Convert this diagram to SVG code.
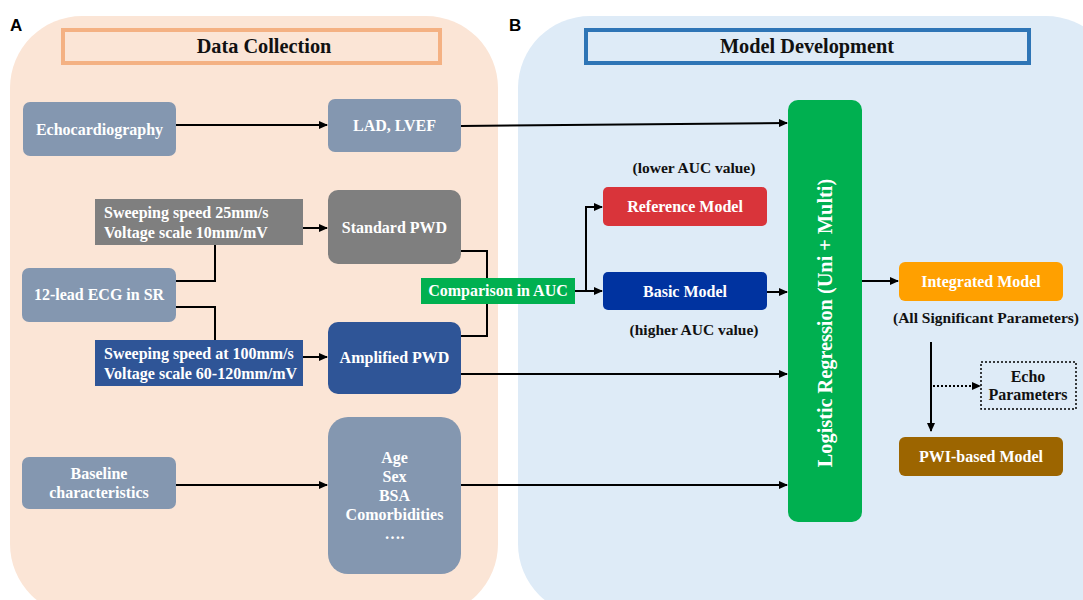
<svg xmlns="http://www.w3.org/2000/svg" width="1083" height="600" viewBox="0 0 1083 600">
<style>
.t{font-family:"Liberation Serif","Times New Roman",serif;font-weight:bold;font-size:16px;fill:#fff;text-anchor:middle}
.k{fill:#111}
.s{font-size:15.5px}
.h{font-size:20.3px}
.l{text-anchor:start}
.c{fill:none;stroke:#000;stroke-width:2}
.lab{font-family:"Liberation Sans",Arial,sans-serif;font-weight:bold;font-size:17px;fill:#000}
</style>
<defs>
<marker id="ah" markerWidth="9" markerHeight="8" refX="8" refY="4" orient="auto" markerUnits="userSpaceOnUse">
<path d="M0,0 L9,4 L0,8 Z" fill="#000"/>
</marker>
</defs>
<rect width="1083" height="600" fill="#fff"/>
<g id="panelA">
<rect x="10" y="16" width="488" height="600" rx="72" fill="#fbe5d6"/>
<text class="lab" x="10" y="31">A</text>
<rect x="63" y="30" width="377" height="33" fill="none" stroke="#f4b183" stroke-width="4"/>
<text class="t k h" x="264" y="53">Data Collection</text>
</g>
<g id="panelB">
<rect x="518" y="16" width="600" height="600" rx="72" fill="#deebf7"/>
<text class="lab" x="509" y="31">B</text>
<rect x="586" y="30" width="443" height="33" fill="none" stroke="#2e75b6" stroke-width="4"/>
<text class="t k h" x="807" y="53">Model Development</text>
</g>
<g id="connectors">
<path class="c" d="M176,125 H327" marker-end="url(#ah)"/>
<path class="c" d="M461,126 L787,123" marker-end="url(#ah)"/>
<path class="c" d="M176,281 H215 V245"/>
<path class="c" d="M176,307 H215 V340"/>
<path class="c" d="M303,228 H327" marker-end="url(#ah)"/>
<path class="c" d="M303,357 H327" marker-end="url(#ah)"/>
<path class="c" d="M461,251 H487 V336 H461"/>
<path class="c" d="M575,291 H586 V207 H602" marker-end="url(#ah)"/>
<path class="c" d="M575,291 H602" marker-end="url(#ah)"/>
<path class="c" d="M767,292 H787" marker-end="url(#ah)"/>
<path class="c" d="M461,374 H787" marker-end="url(#ah)"/>
<path class="c" d="M176,485 H327" marker-end="url(#ah)"/>
<path class="c" d="M461,485 H787" marker-end="url(#ah)"/>
<path class="c" d="M862,281 H898" stroke-width="1.5" marker-end="url(#ah)"/>
<path class="c" d="M931,342 V431" marker-end="url(#ah)"/>
<path class="c" d="M933,386 H980" stroke-width="1.5" stroke-dasharray="2,2" marker-end="url(#ah)"/>
</g>
<g id="echo">
<rect x="23" y="102" width="153" height="54" rx="7" fill="#8497b0"/>
<text class="t" x="99.5" y="135">Echocardiography</text>
</g>
<g id="ladlvef">
<rect x="328" y="99" width="133" height="53" rx="7" fill="#8497b0"/>
<text class="t" x="394.5" y="131">LAD, LVEF</text>
</g>
<g id="sweep25">
<rect x="95" y="199" width="208" height="46" fill="#7f7f7f"/>
<text class="t l" x="104" y="218">Sweeping speed 25mm/s</text>
<text class="t l" x="104" y="238">Voltage scale 10mm/mV</text>
</g>
<g id="standard">
<rect x="328" y="190" width="133" height="74" rx="10" fill="#7f7f7f"/>
<text class="t" x="394.5" y="233">Standard PWD</text>
</g>
<g id="ecg">
<rect x="22" y="268" width="154" height="54" rx="7" fill="#8497b0"/>
<text class="t" x="99" y="300">12-lead ECG in SR</text>
</g>
<g id="sweep100">
<rect x="95" y="340" width="208" height="46" fill="#2f5597"/>
<text class="t l" x="104" y="359">Sweeping speed at 100mm/s</text>
<text class="t l" x="104" y="379">Voltage scale 60-120mm/mV</text>
</g>
<g id="amplified">
<rect x="328" y="322" width="133" height="72" rx="10" fill="#2f5597"/>
<text class="t" x="394.5" y="363">Amplified  PWD</text>
</g>
<g id="baseline">
<rect x="22" y="457" width="154" height="52" rx="7" fill="#8497b0"/>
<text class="t" x="99" y="479">Baseline</text>
<text class="t" x="99" y="498">characteristics</text>
</g>
<g id="age">
<rect x="328" y="417" width="133" height="157" rx="20" fill="#8497b0"/>
<text class="t" x="394.5" y="463">Age</text>
<text class="t" x="394.5" y="482">Sex</text>
<text class="t" x="394.5" y="501">BSA</text>
<text class="t" x="394.5" y="520">Comorbidities</text>
<text class="t" x="394.5" y="539">….</text>
</g>
<g id="comparison">
<rect x="421" y="278" width="154" height="26" fill="#00b050"/>
<text class="t" x="498" y="296">Comparison in AUC</text>
</g>
<g id="reference">
<text class="t k s" x="694" y="173">(lower AUC value)</text>
<rect x="603" y="187" width="164" height="39" rx="5" fill="#d9343a"/>
<text class="t" x="685" y="212">Reference Model</text>
</g>
<g id="basic">
<rect x="603" y="272" width="164" height="38" rx="5" fill="#0033a0"/>
<text class="t" x="685" y="297">Basic Model</text>
<text class="t k s" x="694" y="335">(higher AUC value)</text>
</g>
<g id="logistic">
<rect x="788" y="100" width="74" height="422" rx="10" fill="#00b050"/>
<text class="t h" transform="translate(832,323) rotate(-90)">Logistic Regression (Uni + Multi)</text>
</g>
<g id="integrated">
<rect x="899" y="262" width="164" height="39" rx="6" fill="#ffa000"/>
<text class="t" x="981" y="287">Integrated Model</text>
<text class="t k s" x="986" y="323">(All  Significant Parameters)</text>
</g>
<g id="echoparams">
<rect x="981" y="362" width="95" height="47" fill="none" stroke="#000" stroke-width="1.5" stroke-dasharray="2,2"/>
<text class="t k" x="1028" y="382">Echo</text>
<text class="t k" x="1028" y="400">Parameters</text>
</g>
<g id="pwi">
<rect x="899" y="437" width="164" height="39" rx="6" fill="#9c6500"/>
<text class="t" x="981" y="462">PWI-based Model</text>
</g>
</svg>
